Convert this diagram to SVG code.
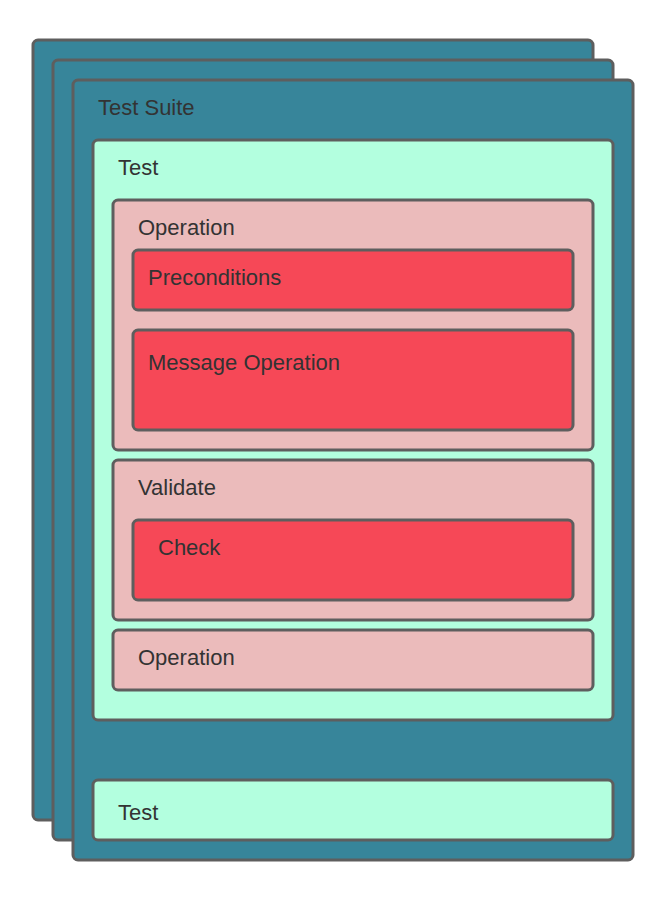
<svg xmlns="http://www.w3.org/2000/svg" width="663" height="904" viewBox="0 0 663 904">
<style>
rect{stroke:#5e5e5e;stroke-width:3}
.suite{fill:#37859a}
.test{fill:#b3ffdf}
.op{fill:#ebbbbb}
.red{fill:#f64857}
text{font-family:"Liberation Sans",Arial,sans-serif;font-size:22px;fill:#333333}
</style>
<rect width="663" height="904" style="fill:#ffffff;stroke:none"/>
<g id="suite-back2"><rect class="suite" x="33" y="40" width="560" height="780" rx="5"/></g>
<g id="suite-back1"><rect class="suite" x="53" y="60" width="560" height="780" rx="5"/></g>
<g id="suite"><rect class="suite" x="73" y="80" width="560" height="780" rx="5"/><text x="98" y="115">Test Suite</text></g>
<g id="test1"><rect class="test" x="93" y="140" width="520" height="580" rx="5"/><text x="118" y="175">Test</text></g>
<g id="operation1"><rect class="op" x="113" y="200" width="480" height="250" rx="5"/><text x="138" y="235">Operation</text></g>
<g id="preconditions"><rect class="red" x="133" y="250" width="440" height="60" rx="5"/><text x="148" y="285">Preconditions</text></g>
<g id="message-operation"><rect class="red" x="133" y="330" width="440" height="100" rx="5"/><text x="148" y="370">Message Operation</text></g>
<g id="validate"><rect class="op" x="113" y="460" width="480" height="160" rx="5"/><text x="138" y="495">Validate</text></g>
<g id="check"><rect class="red" x="133" y="520" width="440" height="80" rx="5"/><text x="158" y="555">Check</text></g>
<g id="operation2"><rect class="op" x="113" y="630" width="480" height="60" rx="5"/><text x="138" y="665">Operation</text></g>
<g id="test2"><rect class="test" x="93" y="780" width="520" height="60" rx="5"/><text x="118" y="820">Test</text></g>
<g id="connectors"></g>
</svg>
